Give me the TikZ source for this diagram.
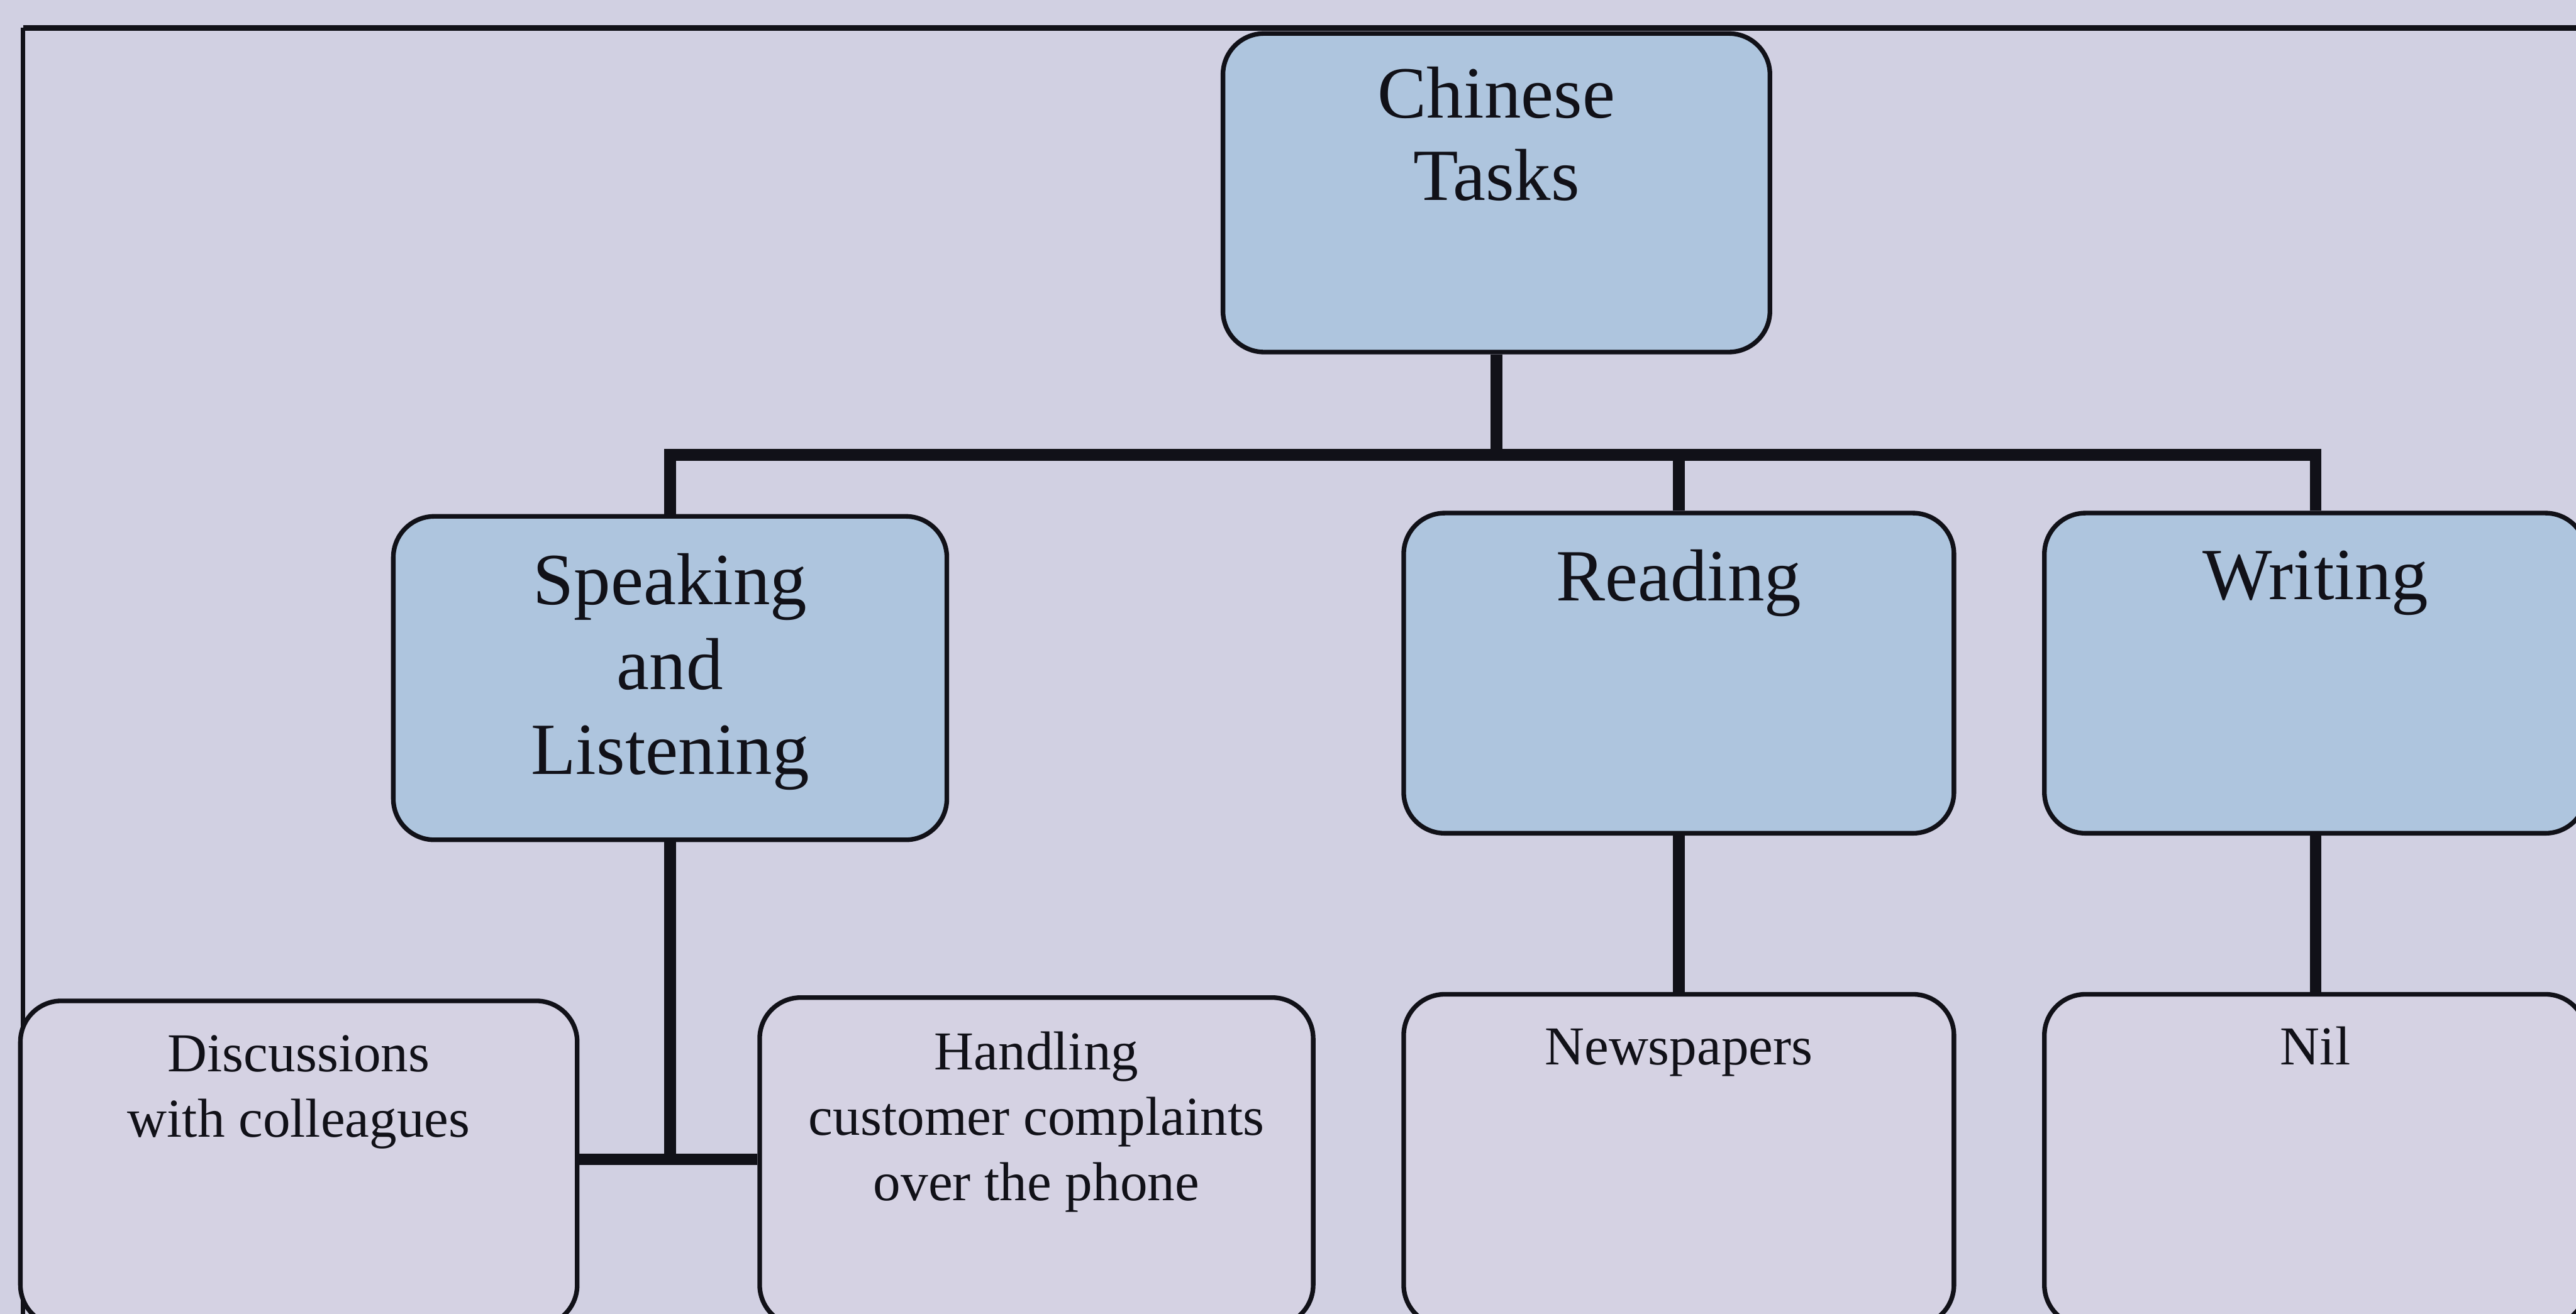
\documentclass[tikz,border=0pt]{standalone}
\usepackage{fontspec}
\setmainfont{Liberation Serif}
\usetikzlibrary{calc}

\definecolor{bg}{HTML}{D1D0E2}
\definecolor{topfill}{HTML}{AEC5DE}
\definecolor{subfill}{HTML}{D5D2E3}
\definecolor{ink}{HTML}{111118}

% box contents: width, height, first baseline below top, line spacing, text
\newcommand{\headtext}[5]{\parbox[c][#2][t]{#1}{\fontsize{25.5}{#4}\selectfont\centering\rule{0pt}{#3}#5\par}}
\newcommand{\leaftext}[4]{\parbox[c][#2][t]{#1}{\fontsize{19}{22.7}\selectfont\centering\rule{0pt}{#3}#4\par}}

\tikzset{
  box/.style={draw=ink, line width=1.6pt, rounded corners=0.5cm, inner sep=0pt, anchor=north west, text=ink},
  headbox/.style={box, fill=topfill},
  leafbox/.style={box, fill=subfill},
  link/.style={draw=ink, line width=4pt},
  frameline/.style={draw=ink, line width=#1},
}

\begin{document}
\begin{tikzpicture}[x=0.02cm, y=-0.02cm]
  \useasboundingbox (0,0) rectangle (1568,800);
  \clip (0,0) rectangle (1568,800);
  \fill[bg] (0,0) rectangle (1568,800);

  % outer frame
  \coordinate (frameBL) at (14,820);
  \coordinate (frameTL) at (14,17);
  \coordinate (frameTR) at (1600,17);
  \draw[frameline=1.4pt] (frameBL) -- (frameTL);
  \draw[frameline=1.9pt] (frameTL) -- (frameTR);

  % top level
  \node[headbox] (top) at (743,19) {\headtext{6.66cm}{3.88cm}{1.03cm}{28.4pt}{Chinese\\Tasks}};

  % second level
  \node[headbox] (speak) at (238,313) {\headtext{6.74cm}{3.94cm}{1.07cm}{29.5pt}{Speaking\\and\\Listening}};
  \node[headbox] (read)  at (853,311) {\headtext{6.7cm}{3.9cm}{1.07cm}{29.5pt}{Reading}};
  \node[headbox] (write) at (1243,311) {\headtext{6.6cm}{3.9cm}{1.05cm}{29.5pt}{Writing}};

  % third level
  \node[leafbox] (disc)  at (11,608)  {\leaftext{6.78cm}{3.96cm}{0.86cm}{Discussions\\with colleagues}};
  \node[leafbox] (handl) at (461,606) {\leaftext{6.74cm}{4.0cm}{0.88cm}{Handling\\customer complaints\\over the phone}};
  \node[leafbox] (news)  at (853,604) {\leaftext{6.7cm}{4.04cm}{0.86cm}{Newspapers}};
  \node[leafbox] (nil)   at (1243,604) {\leaftext{6.6cm}{4.04cm}{0.86cm}{Nil}};

  % connectors
  \coordinate (bus) at (0,277);
  \draw[link] (top.south) -- (top.south |- bus);
  \draw[link] (speak.north) -- (speak.north |- bus) -- (write.north |- bus) -- (write.north);
  \draw[link] (read.north |- bus) -- (read.north);

  \coordinate (lowbus) at (0,706);
  \draw[link] (speak.south) -- (speak.south |- lowbus);
  \draw[link] (disc.east |- lowbus) -- (handl.west |- lowbus);
  \draw[link] (read.south) -- (news.north);
  \draw[link] (write.south) -- (nil.north);
\end{tikzpicture}
\end{document}
